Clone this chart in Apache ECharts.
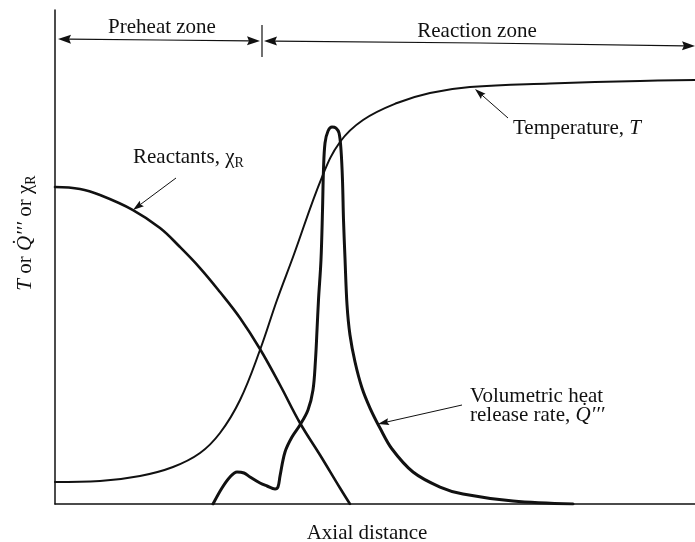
<!DOCTYPE html>
<html>
<head>
<meta charset="utf-8">
<script src="https://cdn.jsdelivr.net/npm/echarts@6/dist/echarts.min.js"></script>
<style>
  html, body { margin: 0; padding: 0; background: #ffffff; }
  #chart { width: 695px; height: 542px; }
</style>
</head>
<body>
<div id="chart"></div>
<script>
// Flame structure: profiles along the axial distance (both axes normalised to 0–100)
const tempX = [0, 7.03, 13.28, 18.44, 22.66, 25.78, 28.91, 32.03, 34.69, 37.19, 41.72, 44.53, 48.13, 53.44, 58.59, 64.84, 77.34, 91.41, 100];
const tempY = [4.45, 4.66, 5.67, 7.49, 10.32, 14.37, 21.05, 31.17, 41.30, 50.0, 66.19, 73.28, 77.73, 81.17, 83.20, 84.41, 85.12, 85.63, 85.83];

const reactX = [0, 3.91, 7.03, 12.19, 16.41, 19.53, 22.66, 25.78, 28.91, 32.03, 35.16, 38.28, 41.41, 44.53, 46.09];
const reactY = [64.17, 63.77, 62.55, 59.51, 55.87, 52.02, 47.77, 42.91, 37.65, 31.38, 24.09, 16.40, 9.92, 3.24, 0];

const heatX = [24.69, 26.09, 27.34, 28.44, 29.53, 30.47, 32.03, 33.13, 34.38, 34.84, 35.16, 35.94, 37.03, 38.28, 39.53, 40.31, 40.70, 40.94, 41.17, 41.56, 41.80, 41.95, 42.19, 42.66, 43.28, 43.91, 44.38, 44.69, 44.92, 45.08, 45.31, 45.63, 46.09, 46.88, 47.97, 49.22, 50.78, 52.66, 55.94, 60.16, 63.75, 71.56, 80.94];
const heatY = [0, 3.24, 5.47, 6.48, 6.28, 5.47, 4.25, 3.64, 3.04, 3.44, 5.67, 10.53, 13.56, 15.99, 19.03, 23.08, 29.15, 35.22, 41.30, 49.39, 59.51, 67.61, 73.08, 75.51, 76.32, 76.11, 75.10, 71.66, 65.59, 57.49, 49.80, 40.28, 34.21, 28.74, 23.48, 19.43, 15.38, 11.13, 6.48, 3.44, 2.02, 0.61, 0];

const zip = (xs, ys) => xs.map((x, i) => [x, ys[i]]);

const SERIF = "'Liberation Serif', 'DejaVu Serif', serif";
const INK = '#111111';

// Straight pointer with a filled triangular head at (x2, y2)
function arrow(x1, y1, x2, y2, len, half, width) {
  const dx = x2 - x1, dy = y2 - y1;
  const d = Math.hypot(dx, dy);
  const ux = dx / d, uy = dy / d;
  const bx = x2 - ux * len, by = y2 - uy * len;
  return [
    { type: 'line', silent: true, shape: { x1: x1, y1: y1, x2: bx + ux * 2, y2: by + uy * 2 },
      style: { stroke: INK, lineWidth: width } },
    { type: 'polygon', silent: true,
      shape: { points: [[x2, y2], [bx - uy * half, by + ux * half], [bx + ux * len * 0.15, by + uy * len * 0.15], [bx + uy * half, by - ux * half]] },
      style: { fill: INK } }
  ];
}

function label(x, y, text, rich, extra) {
  return {
    type: 'text', silent: true, x: x, y: y,
    style: Object.assign({
      text: text, fill: INK, font: '21px ' + SERIF,
      textAlign: 'left', textVerticalAlign: 'middle', rich: rich || {}
    }, extra || {})
  };
}

const richBase = {
  n: { fontFamily: SERIF, fontSize: 21, lineHeight: 26, verticalAlign: 'middle', fill: INK },
  i: { fontFamily: SERIF, fontSize: 21, lineHeight: 26, fontStyle: 'italic', verticalAlign: 'middle', fill: INK },
  c: { fontFamily: SERIF, fontSize: 21, lineHeight: 26, verticalAlign: 'middle', fill: INK },
  s: { fontFamily: SERIF, fontSize: 14, lineHeight: 14, verticalAlign: 'bottom', fill: INK }
};

const graphics = [].concat(
  // zone divider and zone arrows
  [{ type: 'line', silent: true, shape: { x1: 262, y1: 25, x2: 262, y2: 57 }, style: { stroke: INK, lineWidth: 1.2 } }],
  arrow(160, 40, 58, 39, 13, 4.5, 1.2),
  arrow(160, 40, 260, 41, 13, 4.5, 1.2),
  arrow(480, 43, 264, 41, 13, 4.5, 1.2),
  arrow(480, 43, 695, 46, 13, 4.5, 1.2),
  [
    label(162, 27, 'Preheat zone', null, { textAlign: 'center' }),
    label(477, 31, 'Reaction zone', null, { textAlign: 'center' })
  ],
  // curve annotations
  arrow(176, 178, 133, 210, 11, 3.5, 1),
  [label(133, 157, '{n|Reactants, }{c|χ}{s|R}', richBase)],
  arrow(508, 118, 475, 89, 11, 3.5, 1),
  [label(513, 128, '{n|Temperature, }{i|T}', richBase)],
  arrow(462, 405, 378, 424, 11, 3.5, 1),
  [
    label(470, 396, 'Volumetric heat'),
    label(470, 415, '{n|release rate, }{i|Q̇′′′}', richBase)
  ],
  // axis titles
  [
    label(367, 533, 'Axial distance', null, { textAlign: 'center' }),
    {
      type: 'text', silent: true, x: 25, y: 233, rotation: Math.PI / 2,
      style: {
        text: '{i|T}{n| or }{i|Q̇′′′}{n| or }{c|χ}{s|R}',
        textAlign: 'center', textVerticalAlign: 'middle', rich: richBase
      }
    }
  ]
);

const curve = (name, data, width, smooth) => ({
  name: name, type: 'line', data: data, smooth: smooth, symbol: 'none',
  lineStyle: { color: INK, width: width, cap: 'round', join: 'round' },
  silent: true, animation: false
});

const chart = echarts.init(document.getElementById('chart'), null, { renderer: 'canvas' });
chart.setOption({
  backgroundColor: '#ffffff',
  animation: false,
  grid: { left: 55, right: 0, top: 10, bottom: 38, containLabel: false },
  xAxis: {
    type: 'value', min: 0, max: 100,
    axisLine: { show: true, onZero: false, lineStyle: { color: INK, width: 1.5 } },
    axisTick: { show: false }, axisLabel: { show: false }, splitLine: { show: false }
  },
  yAxis: {
    type: 'value', min: 0, max: 100,
    axisLine: { show: true, onZero: false, lineStyle: { color: INK, width: 1.5 } },
    axisTick: { show: false }, axisLabel: { show: false }, splitLine: { show: false }
  },
  series: [
    curve('Temperature, T', zip(tempX, tempY), 2, 0.4),
    curve('Reactants', zip(reactX, reactY), 2.6, 0.4),
    curve('Volumetric heat release rate', zip(heatX, heatY), 3, 0.35)
  ],
  graphic: graphics
});
</script>
</body>
</html>
